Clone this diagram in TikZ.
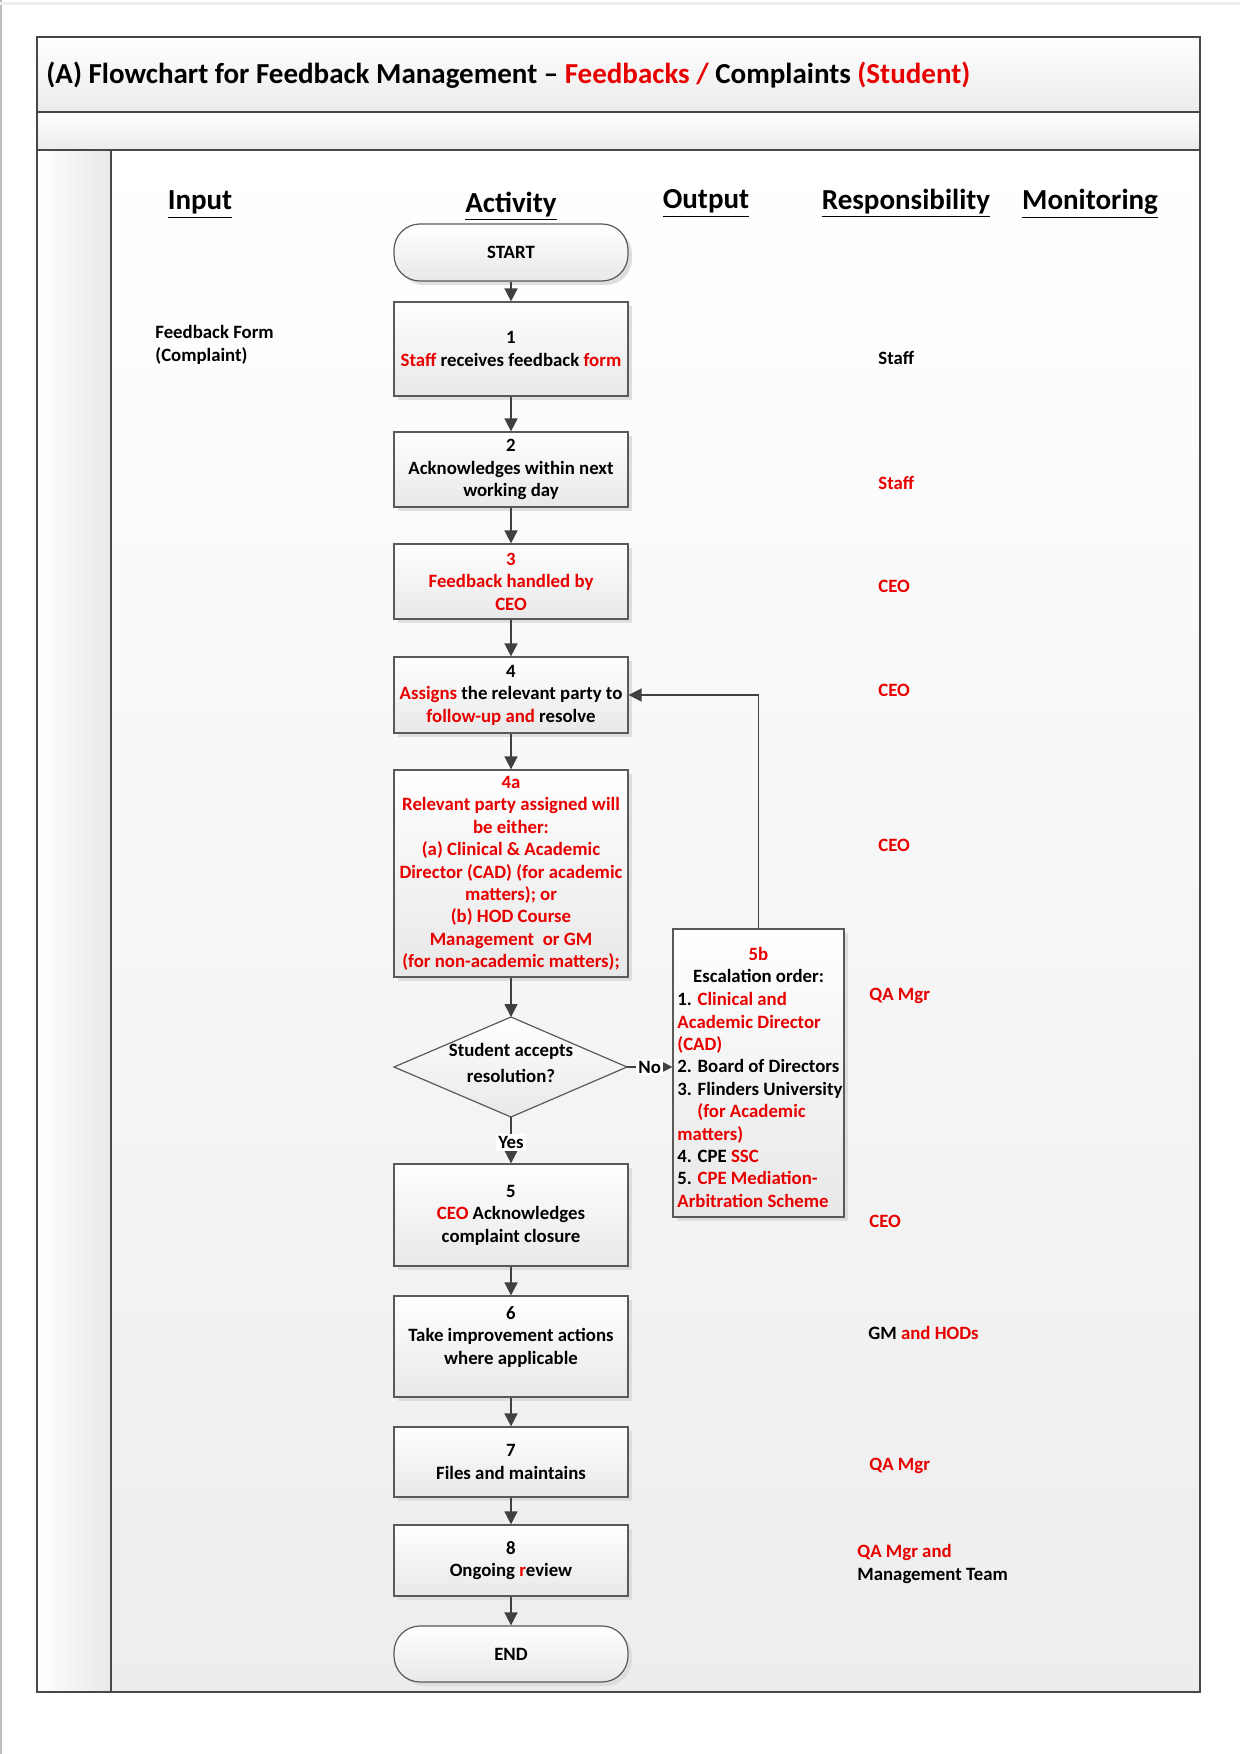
\documentclass[tikz,border=0pt]{standalone}
\usepackage{fontspec}
\setmainfont{Carlito}
\usetikzlibrary{arrows.meta,shadows}
\definecolor{rd}{RGB}{232,0,0}
\definecolor{ln}{RGB}{64,64,64}
\newcommand\myfs{\fontsize{9.4}{11.2}\selectfont\bfseries}
\newcommand\myhdr{\fontsize{14.5}{17}\selectfont\bfseries}
\newcommand\myr[1]{\textcolor{rd}{#1}}
\begin{document}
\begin{tikzpicture}[x=0.5pt,y=-0.5pt,
  frame/.style={draw=black!72, line width=1pt},
  box/.style={draw=black!65, line width=0.6pt, top color=white, bottom color=black!9,
    drop shadow={shadow xshift=2pt,shadow yshift=-2pt,fill=black!13,opacity=1},
    minimum width=117pt, inner xsep=0pt, inner ysep=2pt, align=center, font=\myfs},
  term/.style={box, rounded corners=13pt},
  arr/.style={draw=ln, line width=0.8pt, -{Triangle[length=6.5pt,width=6.5pt]}},
  lbl/.style={fill=white, inner sep=1pt, font=\myfs},
  resp/.style={anchor=west, inner sep=0pt, font=\myfs, align=left},
  hdr/.style={inner sep=0pt, font=\myhdr}]
\useasboundingbox (0,0) rectangle (1240,1754);
\fill[white] (0,0) rectangle (1240,1754);
\draw[black!25, line width=1pt] (1,0) -- (1,1754);
\draw[black!7, line width=1.5pt] (0,4) -- (1240,4);
% frame backgrounds
\shade[top color=white, bottom color=black!8] (37,37) rectangle (1200,112);
\shade[top color=white, bottom color=black!8] (37,112) rectangle (1200,150);
\shade[top color=white, bottom color=black!7] (111,150) rectangle (1200,1692);
\shade[left color=white, right color=black!9] (37,150) rectangle (111,1692);
\draw[frame] (37,37) rectangle (1200,1692);
\draw[frame] (37,112) -- (1200,112);
\draw[frame] (37,150) -- (1200,150);
\draw[frame] (111,150) -- (111,1692);
% title
\node[anchor=west, inner sep=0pt, font=\myhdr] (title) at (46,75)
  {(A) Flowchart for Feedback Management -- \myr{Feedbacks /} Complaints \myr{(Student)}};
% headers
\node[hdr] (hin) at (200,204.5) {\underline{Input}};
\node[hdr] (hact) at (511,206.5) {\underline{Activity}};
\node[hdr] (hout) at (706,203.5) {\underline{Output}};
\node[hdr] (hresp) at (906,203.5) {\underline{Responsibility}};
\node[hdr] (hmon) at (1090,203.5) {\underline{Monitoring}};
% input
\node[resp] (in1) at (155,345) {Feedback Form\\(Complaint)};
% activity
\node[term, minimum height=28.5pt] (start) at (511,252.5) {START};
\node[box, minimum height=47pt] (b1) at (511,349) {1\\\myr{Staff} receives feedback \myr{form}};
\node[box, minimum height=37.5pt] (b2) at (511,469.5) {2\\Acknowledges within next\\working day};
\node[box, minimum height=37.5pt, text=rd] (b3) at (511,581.5) {3\\Feedback handled by\\CEO};
\node[box, minimum height=38pt] (b4) at (511,695) {4\\\myr{Assigns} the relevant party to\\\myr{follow-up and} resolve};
\node[box, minimum height=103.5pt, text=rd] (b4a) at (511,873.5)
  {4a\\Relevant party assigned will\\be either:\\(a) Clinical \& Academic\\Director (CAD) (for academic\\matters); or\\(b) HOD Course\\Management\ \ or GM\\(for non-academic matters);};
% decision
\coordinate (dN) at (511,1017);
\coordinate (dE) at (627,1067);
\coordinate (dS) at (511,1117);
\coordinate (dW) at (394,1067);
\path[draw=black!65, line width=0.6pt, top color=white, bottom color=black!9] (dW) -- (dN) -- (dE) -- (dS) -- cycle;
\node[font=\fontsize{9.4}{12.7}\selectfont\bfseries, align=center, inner sep=0pt] (dia) at (511,1063) {Student accepts\\resolution?};
\node[box, minimum height=51pt] (b5) at (511,1215) {5\\\myr{CEO} Acknowledges\\complaint closure};
\node[box, minimum height=50.5pt] (b6) at (511,1346.5) {6\\Take improvement actions\\where applicable\\\mbox{}};
\node[box, minimum height=35pt] (b7) at (511,1462) {7\\Files and maintains};
\node[box, minimum height=35.5pt] (b8) at (511,1560.5) {8\\Ongoing \myr{r}eview};
\node[term, minimum height=28pt] (end) at (511,1654) {END};
% escalation box
\node[box, minimum width=85.5pt, minimum height=144pt] (b5b) at (758.5,1073) {};
\node[font=\myfs, align=center, inner sep=0pt] (t5bh) at (758.5,965) {\myr{5b}\\Escalation order:};
\node[resp] (t5b) at (677,1100)
  {1. \myr{Clinical and}\\
   \myr{Academic Director}\\
   \myr{(CAD)}\\
   2. Board of Directors\\
   3. Flinders University\\
   \hspace*{10pt}\myr{(for Academic}\\
   \myr{matters)}\\
   4. CPE \myr{SSC}\\
   5. \myr{CPE Mediation-}\\
   \myr{Arbitration Scheme}};
% responsibility
\node[resp] (r1) at (878,358) {Staff};
\node[resp, text=rd] (r2) at (878,483) {Staff};
\node[resp, text=rd] (r3) at (878,586) {CEO};
\node[resp, text=rd] (r4) at (878,690) {CEO};
\node[resp, text=rd] (r4a) at (878,845) {CEO};
\node[resp, text=rd] (r5b) at (869,996) {QA Mgr};
\node[resp, text=rd] (r5) at (869,1221) {CEO};
\node[resp] (r6) at (868,1333) {GM \myr{and HODs}};
\node[resp, text=rd] (r7) at (869,1466) {QA Mgr};
\node[resp] (r8) at (857,1564) {\myr{QA Mgr and}\\Management Team};
% connectors
\draw[arr] (start) -- (b1);
\draw[arr] (b1) -- (b2);
\draw[arr] (b2) -- (b3);
\draw[arr] (b3) -- (b4);
\draw[arr] (b4) -- (b4a);
\draw[arr] (b4a) -- (dN);
\draw[arr] (dS) -- node[lbl, pos=0.55] (yes) {Yes} (b5);
\draw[arr] (dE) -- node[lbl] (no) {No} (b5b.west |- dE);
\draw[arr] (b5b.north) |- (b4.east);
\draw[arr] (b5) -- (b6);
\draw[arr] (b6) -- (b7);
\draw[arr] (b7) -- (b8);
\draw[arr] (b8) -- (end);
\end{tikzpicture}
\end{document}
